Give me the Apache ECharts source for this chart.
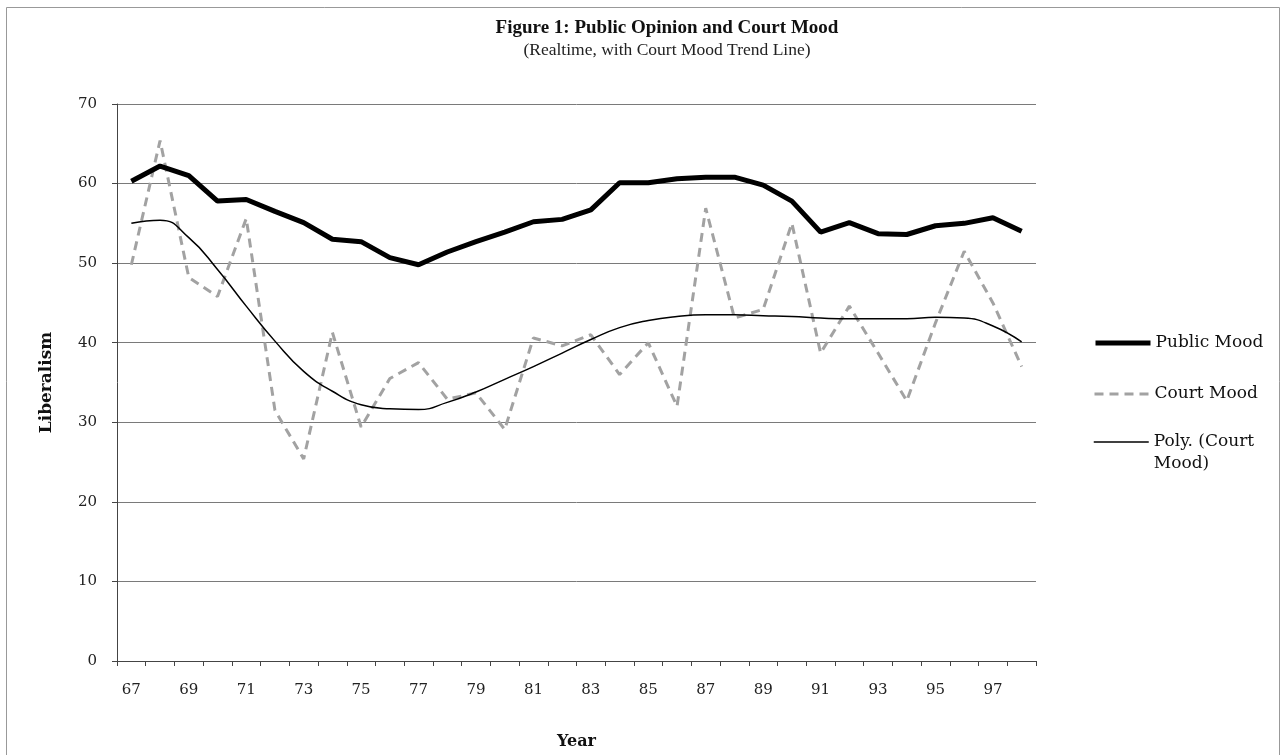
<!DOCTYPE html>
<html>
<head>
<meta charset="utf-8">
<script src="https://cdn.jsdelivr.net/npm/echarts@6/dist/echarts.min.js"></script>
<style>
html,body{margin:0;padding:0;background:#fff;}
#chart{width:1285px;height:755px;}
</style>
</head>
<body>
<div id="chart"></div>
<script>
const years = ['67','68','69','70','71','72','73','74','75','76','77','78','79','80','81','82','83','84','85','86','87','88','89','90','91','92','93','94','95','96','97','98'];
const publicMood = [60.3, 62.2, 61.0, 57.8, 58.0, 56.5, 55.1, 53.0, 52.7, 50.7, 49.8, 51.4, 52.7, 53.9, 55.2, 55.5, 56.7, 60.1, 60.1, 60.6, 60.8, 60.8, 59.8, 57.8, 53.9, 55.1, 53.7, 53.6, 54.7, 55.0, 55.7, 54.0];
const courtMood = [49.8, 65.4, 48.2, 45.8, 55.6, 31.5, 25.4, 41.3, 29.4, 35.5, 37.5, 32.9, 33.7, 29.1, 40.6, 39.6, 41.0, 36.0, 40.0, 32.0, 56.9, 43.1, 44.2, 55.0, 38.7, 44.6, 38.7, 32.7, 42.5, 51.5, 45.0, 37.0];
const polyTrend = [55.0, 55.4, 53.2, 49.2, 44.6, 40.2, 36.4, 33.9, 32.2, 31.7, 31.6, 32.5, 33.8, 35.4, 37.0, 38.7, 40.4, 41.9, 42.8, 43.3, 43.5, 43.5, 43.4, 43.3, 43.1, 43.0, 43.0, 43.0, 43.2, 43.1, 42.1, 40.1];
const yTicks = { min: 0, max: 70, interval: 10 };

const serif = 'DejaVu Serif';
const chart = echarts.init(document.getElementById('chart'), null, { renderer: 'canvas' });
const legendBase = {
  orient: 'vertical', left: 1088, itemWidth: 55, itemHeight: 14, itemGap: 0,
  textStyle: { fontFamily: serif, fontSize: 17, color: '#111', lineHeight: 22 },
  itemStyle: { opacity: 0 },
  selectedMode: false
};
chart.setOption({
  backgroundColor: '#fff',
  animation: false,
  title: {
    text: 'Figure 1: Public Opinion and Court Mood',
    subtext: '(Realtime, with Court Mood Trend Line)',
    left: 662, top: 14, textAlign: 'center', itemGap: 3,
    textStyle: { fontFamily: 'Liberation Serif', fontWeight: 'bold', fontSize: 19, color: '#111' },
    subtextStyle: { fontFamily: 'Liberation Serif', fontSize: 17.5, color: '#222' }
  },
  legend: [
    Object.assign({}, legendBase, { top: 327, data: ['Public Mood'],
      lineStyle: { width: 5, color: '#000' } }),
    Object.assign({}, legendBase, { top: 378, data: ['Court Mood'],
      lineStyle: { width: 3, color: '#a2a2a2', type: [9, 6] } }),
    Object.assign({}, legendBase, { top: 404, data: ['Poly. (Court Mood)'],
      lineStyle: { width: 1.5, color: '#000' },
      formatter: () => ' \nPoly. (Court\nMood)' })
  ],
  grid: { left: 117, right: 249, top: 104, bottom: 93, containLabel: false },
  xAxis: {
    type: 'category', data: years, boundaryGap: true,
    name: 'Year', nameLocation: 'middle', nameGap: 73,
    nameTextStyle: { fontFamily: serif, fontWeight: 'bold', fontSize: 16, color: '#111' },
    axisLine: { lineStyle: { color: '#444', width: 1 } },
    axisTick: { show: true, interval: 0, length: 5, lineStyle: { color: '#444' } },
    axisLabel: { interval: 1, margin: 22, fontFamily: serif, fontSize: 15, color: '#222' },
    splitLine: { show: false }
  },
  yAxis: {
    type: 'value', min: yTicks.min, max: yTicks.max, interval: yTicks.interval,
    name: 'Liberalism', nameLocation: 'middle', nameGap: 62, nameRotate: 90,
    nameTextStyle: { fontFamily: serif, fontWeight: 'bold', fontSize: 17, color: '#111' },
    axisLine: { show: true, lineStyle: { color: '#444', width: 1 } },
    axisTick: { show: true, length: 5, lineStyle: { color: '#444' } },
    axisLabel: { margin: 20, fontFamily: serif, fontSize: 15, color: '#222' },
    splitLine: { show: true, lineStyle: { color: '#7a7a7a', width: 1 } }
  },
  graphic: [{
    type: 'polyline', silent: true,
    shape: { points: [[6.5, 755], [6.5, 7.5], [1279.5, 7.5], [1279.5, 755]] },
    style: { stroke: '#999', lineWidth: 1, fill: null }
  }],
  series: [
    { name: 'Public Mood', type: 'line', data: publicMood, symbol: 'none', z: 3,
      lineStyle: { color: '#000', width: 5 }, itemStyle: { color: '#000' } },
    { name: 'Court Mood', type: 'line', data: courtMood, symbol: 'none', z: 2,
      lineStyle: { color: '#a2a2a2', width: 3, type: [9, 6] }, itemStyle: { color: '#a2a2a2' } },
    { name: 'Poly. (Court Mood)', type: 'line', data: polyTrend, symbol: 'none', smooth: true, z: 4,
      lineStyle: { color: '#000', width: 1.5 }, itemStyle: { color: '#000' } }
  ]
});
</script>
</body>
</html>
